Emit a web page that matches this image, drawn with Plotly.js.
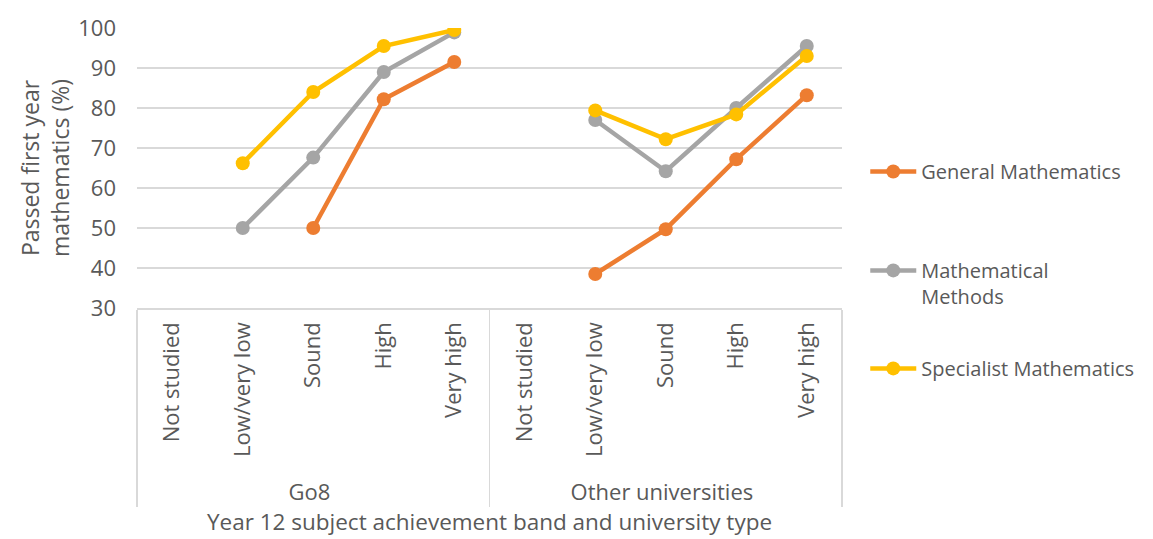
<!DOCTYPE html>
<html><head><meta charset="utf-8">
<script src="https://cdn.plot.ly/plotly-3.0.1.min.js"></script>
<style>html,body{margin:0;padding:0;background:#fff}#chart{width:1153px;height:539px}</style>
</head><body><div id="chart"></div>
<script>
const groups = ["Go8","Go8","Go8","Go8","Go8","Other universities","Other universities","Other universities","Other universities","Other universities"];
const bands = ["Not studied","Low/very low","Sound","High","Very high","Not studied","Low/very low","Sound","High","Very high"];
const generalMaths = [null, null, 50, 82.2, 91.5, null, 38.5, 49.7, 67.2, 83.2];
const mathMethods = [null, 50, 67.6, 89, 98.9, null, 77, 64.2, 80, 95.5];
const specialistMaths = [null, 66.2, 84, 95.5, 99.5, null, 79.4, 72.2, 78.4, 93];
const seriesNames = ["General Mathematics","Mathematical<br>Methods","Specialist Mathematics"];
const colors = ["#ED7D31","#A5A5A5","#FFC000"];
const font = "Open Sans, sans-serif";
const txt = "#595959";
const vals = [generalMaths, mathMethods, specialistMaths];
const legendIds = ["legend","legend2","legend3"];
// a leading non-breaking space gives the band labels a little extra room below them
const bandLabels = bands.map(b => "\u00A0" + b);
const traces = vals.map((v,i)=>({
  type:"scatter", mode:"lines+markers", x:[groups,bandLabels], y:v, name:seriesNames[i],
  legend:legendIds[i], connectgaps:false, showlegend:true,
  line:{color:colors[i], width:4.5}, marker:{color:colors[i], size:14}
}));
function leg(y){ return {x:1.033, xanchor:"left", y:y, yanchor:"top", font:{size:20, color:txt}, valign:"top", itemwidth:46, bgcolor:"rgba(0,0,0,0)"}; }
const layout = {
  width:1153, height:539, paper_bgcolor:"#fff", plot_bgcolor:"#fff",
  margin:{l:137, r:311, t:28, b:231},
  font:{family:font, color:txt},
  showlegend:true,
  legend:leg(0.557), legend2:leg(0.204), legend3:leg(-0.146),
  xaxis:{type:"multicategory", range:[-0.5,9.5], autorange:false, tickangle:-90, tickfont:{size:22, color:txt},
    showdividers:true, dividercolor:"#d9d9d9", dividerwidth:1.5, ticklabelstandoff:4,
    showline:true, linecolor:"#d9d9d9", linewidth:1.5, ticks:"", showgrid:false,
    title:{text:"Year 12 subject achievement band and university type", font:{size:22.5, color:txt}, standoff:9}},
  yaxis:{range:[30,100], autorange:false, dtick:10, tickfont:{size:22, color:txt}, gridcolor:"#d9d9d9", gridwidth:1.5,
    zeroline:false, showline:false, ticks:"", ticklabelstandoff:20, automargin:true,
    title:{text:"Passed first year<br>mathematics (%)", font:{size:23, color:txt}, standoff:2}}
};
Plotly.newPlot("chart", traces, layout, {displayModeBar:false, staticPlot:true});
</script></body></html>
